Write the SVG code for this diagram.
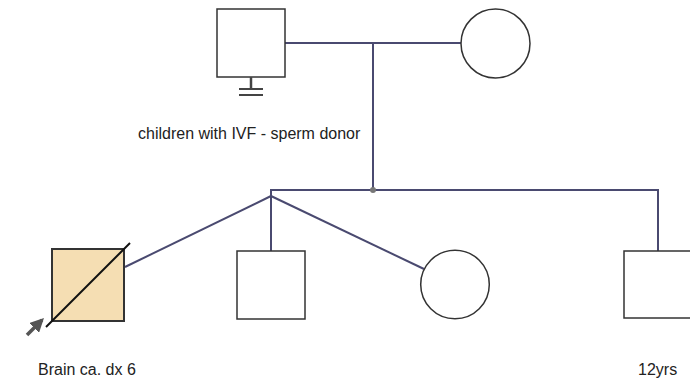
<svg xmlns="http://www.w3.org/2000/svg" width="690" height="380" viewBox="0 0 690 380">
<style>
.ind{fill:#ffffff;stroke:#333333;stroke-width:1.5}
.rel{fill:none;stroke:#4a4a70;stroke-width:2}
.lbl{font-family:"Liberation Sans",Arial,sans-serif;font-size:16px;fill:#222222}
</style>
<defs>
<marker id="arr" viewBox="0 0 10 10" refX="8" refY="5" markerWidth="4" markerHeight="4" orient="auto">
<path d="M0,0 L10,5 L0,10 z" fill="#555555"/>
</marker>
</defs>
<rect width="690" height="380" fill="#ffffff"/>
<g id="connectors">
<line class="rel" x1="285" y1="43" x2="461" y2="43"/>
<line class="rel" x1="373" y1="43" x2="373" y2="190"/>
<polyline class="rel" points="658,251 658,190 271,190 271,196"/>
<line class="rel" x1="271" y1="196" x2="125" y2="267"/>
<line class="rel" x1="271" y1="196" x2="271" y2="251"/>
<line class="rel" x1="271" y1="196" x2="424" y2="269"/>
<circle cx="373" cy="190" r="3" fill="#777777"/>
</g>
<g id="father">
<rect class="ind" x="217" y="9" width="68" height="68"/>
<line x1="251" y1="77" x2="251" y2="89" stroke="#444444" stroke-width="2.5"/>
<line x1="239" y1="89" x2="263" y2="89" stroke="#444444" stroke-width="2"/>
<line x1="239" y1="95" x2="263" y2="95" stroke="#444444" stroke-width="2"/>
</g>
<g id="mother">
<circle class="ind" cx="495.5" cy="43.5" r="34.5"/>
</g>
<g id="proband">
<rect x="52" y="249" width="72" height="72" fill="#f5deb3" stroke="#333333" stroke-width="2"/>
<line x1="46" y1="327" x2="130" y2="243" stroke="#111111" stroke-width="2"/>
<line x1="27" y1="335" x2="42" y2="320" stroke="#555555" stroke-width="3.5" marker-end="url(#arr)"/>
</g>
<g id="son">
<rect class="ind" x="237" y="251" width="68" height="68"/>
</g>
<g id="daughter">
<circle class="ind" cx="455" cy="284.5" r="34.3"/>
</g>
<g id="son2">
<rect class="ind" x="624" y="251" width="68" height="67"/>
</g>
<g id="labels">
<text class="lbl" x="138" y="139">children with IVF - sperm donor</text>
<text class="lbl" x="38" y="375">Brain ca. dx 6</text>
<text class="lbl" x="638" y="375">12yrs</text>
</g>
</svg>
